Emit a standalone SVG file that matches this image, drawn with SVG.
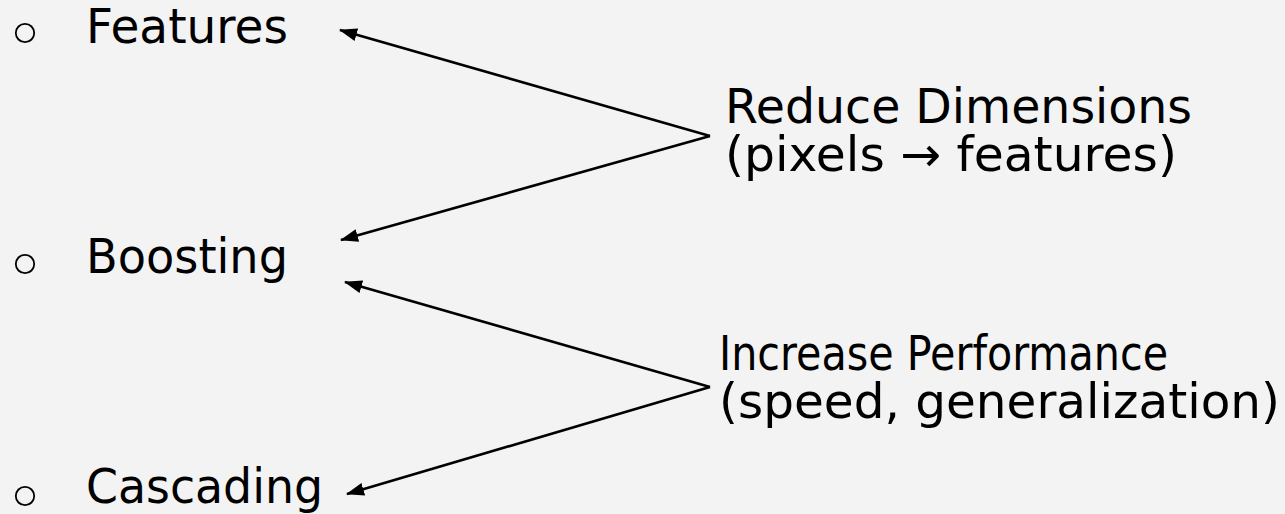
<svg xmlns="http://www.w3.org/2000/svg" width="1285" height="514" viewBox="0 0 1285 514">
<defs>
<style>
.t{font-family:"DejaVu Sans",Verdana,sans-serif;font-size:48px;fill:#000}
.b{fill:none;stroke:#000;stroke-width:1.8}
.c{stroke:#000;stroke-width:2.6;fill:none}
</style>
<marker id="ah" viewBox="0 0 18 13" refX="17" refY="6.5" markerWidth="18" markerHeight="13" orient="auto" markerUnits="userSpaceOnUse">
<path d="M0,0 L18,6.5 L0,13 Z" fill="#000"/>
</marker>
</defs>
<rect width="1285" height="514" fill="#f3f3f3"/>
<g id="features"><circle class="b" cx="25" cy="33" r="9.2"/><text class="t" x="86" y="43" textLength="202" lengthAdjust="spacingAndGlyphs">Features</text></g>
<g id="boosting"><circle class="b" cx="25" cy="264" r="9.2"/><text class="t" x="86" y="273" textLength="202" lengthAdjust="spacingAndGlyphs">Boosting</text></g>
<g id="cascading"><circle class="b" cx="25" cy="496" r="9.2"/><text class="t" x="86" y="503" textLength="237" lengthAdjust="spacingAndGlyphs">Cascading</text></g>
<g id="reduce"><text class="t" x="725" y="123" textLength="467" lengthAdjust="spacingAndGlyphs">Reduce Dimensions</text><text class="t" x="725" y="171" textLength="452" lengthAdjust="spacingAndGlyphs">(pixels → features)</text></g>
<g id="increase"><text class="t" x="719" y="370" textLength="449" lengthAdjust="spacingAndGlyphs">Increase Performance</text><text class="t" x="719" y="418" textLength="561" lengthAdjust="spacingAndGlyphs">(speed, generalization)</text></g>
<g id="connectors">
<line class="c" x1="710" y1="136" x2="340" y2="30" marker-end="url(#ah)"/>
<line class="c" x1="710" y1="136" x2="341" y2="240" marker-end="url(#ah)"/>
<line class="c" x1="710" y1="387" x2="345" y2="282" marker-end="url(#ah)"/>
<line class="c" x1="710" y1="387" x2="347" y2="494" marker-end="url(#ah)"/>
</g>
</svg>
